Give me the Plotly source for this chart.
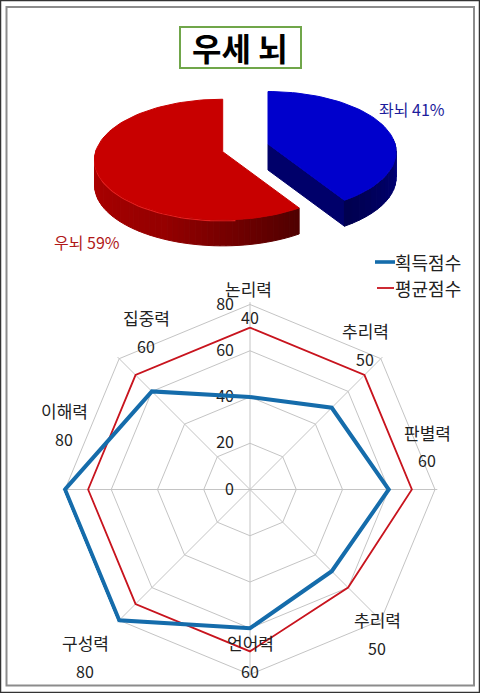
import numpy as np
import plotly.graph_objects as go

# pie data
pie_names = ["좌뇌", "우뇌"]
pie_shares = [41, 59]

# radar data
categories = ["논리력", "추리력", "판별력", "추리력", "언어력", "구성력", "이해력", "집중력"]
earned_scores = [40, 50, 60, 50, 60, 80, 80, 60]
average_scores = [70, 70, 70, 60, 70, 70, 70, 70]
radial_ticks = [0, 20, 40, 60, 80]
legend_names = ["획득점수", "평균점수"]

W, H = 480, 693
FONT = "Noto Sans CJK KR"
BLUE_LINE, RED_LINE = "#156cab", "#c8141e"

# pie geometry (px), slight perspective so the front of the ellipse is bigger
PIE_A, PIE_B, PIE_K, DEPTH = 127, 59.3, 0.13, 26
RED_APEX = (222.7, 151.7)
BLUE_APEX = (268, 144)


def project(apex, theta_deg, r=1.0):
    t = np.radians(theta_deg)
    u, v = r * np.sin(t), r * np.cos(t)
    f = 1 / (1 + PIE_K * v)
    return apex[0] + PIE_A * u * f, apex[1] - PIE_B * v * f


def mix(c1, c2, t):
    return "rgb(%d,%d,%d)" % tuple(a + (b - a) * t for a, b in zip(c1, c2))


def poly(xs, ys, color):
    return go.Scatter(x=list(xs) + [xs[0]], y=list(ys) + [ys[0]], mode="lines", fill="toself",
                      fillcolor=color, line=dict(color=color, width=1), hoverinfo="skip",
                      showlegend=False, xaxis="x", yaxis="y")


def side_strip(apex, th1, th2, c1, c2, n):
    # side wall of the pie, cut in small strips to fake the gradient
    out = []
    edges = np.linspace(th1, th2, n + 1)
    for i in range(n):
        a = np.linspace(edges[i], edges[i + 1], 3)
        x, y = project(apex, a)
        xs = list(x) + list(x[::-1])
        ys = list(y) + list(y[::-1] + DEPTH)
        out.append(poly(xs, ys, mix(c1, c2, i / (n - 1))))
    return out


split = 360 * pie_shares[0] / sum(pie_shares)

fig = go.Figure()

# red slice
for tr in side_strip(RED_APEX, 272, 205, (178, 0, 0), (150, 0, 0), 24):
    fig.add_trace(tr)
for tr in side_strip(RED_APEX, 205, split, (150, 0, 0), (80, 0, 0), 24):
    fig.add_trace(tr)
# bright rim along the front edge
th = np.linspace(272, 175, 50)
x, y = project(RED_APEX, th)
fig.add_trace(go.Scatter(x=x + 0, y=y + 1, mode="lines", line=dict(color="#e62020", width=1.2),
                         hoverinfo="skip", showlegend=False))
th = np.linspace(split, 360, 90)
x, y = project(RED_APEX, th)
fig.add_trace(poly([RED_APEX[0]] + list(x), [RED_APEX[1]] + list(y), "#c80000"))

# blue slice
ex, ey = project(BLUE_APEX, split)
fig.add_trace(poly([BLUE_APEX[0], ex, ex, BLUE_APEX[0]],
                   [BLUE_APEX[1], ey, ey + DEPTH, BLUE_APEX[1] + DEPTH], "#00006a"))
for tr in side_strip(BLUE_APEX, split, 85, (0, 0, 80), (0, 0, 125), 16):
    fig.add_trace(tr)
th = np.linspace(0, split, 60)
x, y = project(BLUE_APEX, th)
fig.add_trace(poly([BLUE_APEX[0]] + list(x), [BLUE_APEX[1]] + list(y), "#0000cc"))

# radar, red first so the thick blue line stays on top
keys = [f"{name}{i}" for i, name in enumerate(categories)]
fig.add_trace(go.Scatterpolar(r=average_scores + average_scores[:1], theta=keys + keys[:1],
                              mode="lines", name=legend_names[1], subplot="polar",
                              showlegend=False, line=dict(color=RED_LINE, width=1.8)))
fig.add_trace(go.Scatterpolar(r=earned_scores + earned_scores[:1], theta=keys + keys[:1],
                              mode="lines", name=legend_names[0], subplot="polar",
                              showlegend=False, line=dict(color=BLUE_LINE, width=4)))


def px(x, y):
    return dict(x=x / W, y=1 - y / H, xref="paper", yref="paper", showarrow=False,
                xanchor="center", yanchor="middle")


def hline(x0, x1, y, color, width):
    return dict(type="line", xref="paper", yref="paper", x0=x0 / W, x1=x1 / W, y0=1 - y / H, y1=1 - y / H,
                line=dict(color=color, width=width))


# category labels sit on two lines, name then score
name_pos = [(248, 288), (365, 330), (427, 432), (377, 619), (250, 642), (85, 642), (64, 410), (146, 317)]
score_pos = [(250, 317), (365, 359), (427, 460), (377, 648), (250, 671), (85, 671), (64, 439), (146, 346)]
notes = []
for name, val, p1, p2 in zip(categories, earned_scores, name_pos, score_pos):
    notes.append(dict(text=name, font=dict(size=17, color="#222"), **px(*p1)))
    notes.append(dict(text=str(val), font=dict(size=16, color="#222"), **px(*p2)))
notes.append(dict(text=f"{pie_names[0]} {pie_shares[0]}%", font=dict(size=16, color="#1c1c9c"), **px(412, 109)))
notes.append(dict(text=f"{pie_names[1]} {pie_shares[1]}%", font=dict(size=16, color="#b01818"), **px(87, 242)))
notes.append(dict(text="<b>우세 뇌</b>", font=dict(size=32, color="#000"), **px(240, 47)))
notes.append(dict(text=legend_names[0], font=dict(size=18, color="#222"), **px(428, 262)))
notes.append(dict(text=legend_names[1], font=dict(size=18, color="#222"), **px(428, 288)))

# frame lines, title box and hand drawn legend keys
shapes = [
    dict(type="rect", xref="paper", yref="paper", x0=0.5 / W, x1=1 - 0.5 / W, y0=0.5 / H, y1=1 - 0.5 / H,
         line=dict(color="#333", width=1.5), layer="below"),
    dict(type="rect", xref="paper", yref="paper", x0=6.5 / W, x1=474 / W, y0=1 - 685.5 / H, y1=1 - 7 / H,
         line=dict(color="#8c8c8c", width=2), layer="below"),
    dict(type="rect", xref="paper", yref="paper", x0=180 / W, x1=301 / W, y0=1 - 68 / H, y1=1 - 27 / H,
         line=dict(color="#70a64a", width=2), fillcolor="white", layer="below"),
    hline(375, 395, 262, BLUE_LINE, 3.6),
    hline(377, 394, 288, RED_LINE, 1.8),
]

# axis runs a touch past 80, the polar clip would cut the thick line in half on the outer ring
R_MAX = 81
cx, cy, rad = 250, 489.5, 185 * R_MAX / 80
fig.update_layout(
    width=W, height=H,
    margin=dict(l=0, r=0, t=0, b=0),
    paper_bgcolor="white", plot_bgcolor="rgba(0,0,0,0)",
    font=dict(family=FONT, color="#222"),
    showlegend=False,
    xaxis=dict(range=[0, W], domain=[0, 1], visible=False, fixedrange=True),
    yaxis=dict(range=[H, 0], domain=[0, 1], visible=False, fixedrange=True),
    polar=dict(
        domain=dict(x=[(cx - rad) / W, (cx + rad) / W], y=[1 - (cy + rad) / H, 1 - (cy - rad) / H]),
        gridshape="linear",
        bgcolor="rgba(0,0,0,0)",
        angularaxis=dict(type="category", categoryorder="array", categoryarray=keys,
                         direction="clockwise", rotation=90, showticklabels=False, ticks="",
                         showline=False, layer="below traces",
                         gridcolor="#c4c4c4", gridwidth=1),
        radialaxis=dict(range=[0, R_MAX], tickvals=radial_ticks, angle=90, tickangle=90,
                        side="counterclockwise", ticks="outside", ticklen=10, layer="below traces",
                        tickcolor="rgba(0,0,0,0)", showline=False,
                        gridcolor="#c4c4c4", gridwidth=1, tickfont=dict(size=16, color="#222")),
    ),
    annotations=notes,
    shapes=shapes,
)

# page margin off, otherwise the figure sits 8px in from the window
fig.write_html("out.html", config=dict(displayModeBar=False),
               post_script="document.body.style.margin='0';document.body.style.overflow='hidden';")
